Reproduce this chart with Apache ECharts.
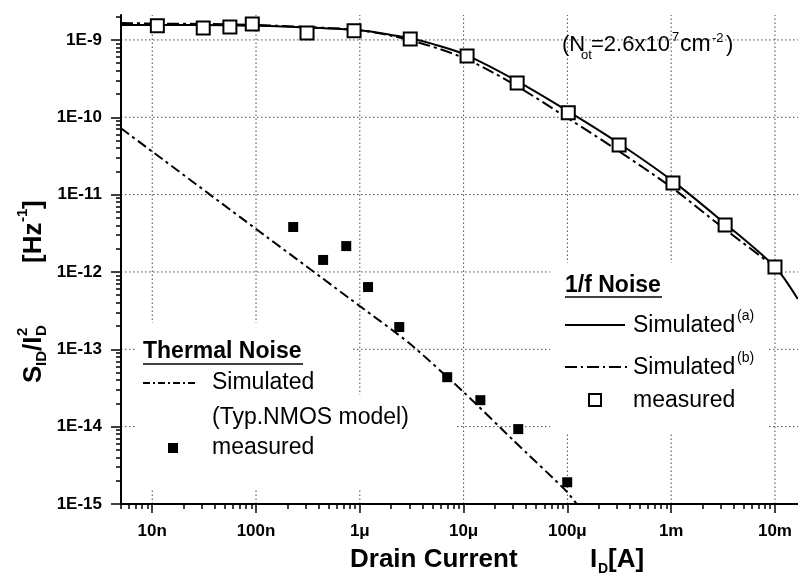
<!DOCTYPE html>
<html><head><meta charset="utf-8">
<script src="https://cdn.jsdelivr.net/npm/echarts@6/dist/echarts.min.js"></script>
<style>html,body{margin:0;padding:0;background:#fff}#c{width:798px;height:585px}</style>
</head><body><div id="c"></div>
<script>
// ---- tick labels ----
const xTickValues = [1e-8, 1e-7, 1e-6, 1e-5, 1e-4, 1e-3, 1e-2];
const xTickLabels = ['10n', '100n', '1μ', '10μ', '100μ', '1m', '10m'];
const yTickValues = [1e-15, 1e-14, 1e-13, 1e-12, 1e-11, 1e-10, 1e-9];
const yTickLabels = ['1E-15', '1E-14', '1E-13', '1E-12', '1E-11', '1E-10', '1E-9'];

// ---- thermal noise ----
const thermalSimX = [5e-9, 1e-8, 1e-7, 1e-6, 3e-6, 1e-5, 3e-5, 1e-4, 1.3e-4];
const thermalSimY = [7.2e-11, 3.6e-11, 3.6e-12, 3.62e-13, 1.2e-13, 2.8e-14, 6.7e-15, 1.42e-15, 9e-16];
const thermalMeasX = [2.28e-7, 4.43e-7, 7.4e-7, 1.2e-6, 2.4e-6, 6.95e-6, 1.45e-5, 3.36e-5, 9.96e-5];
const thermalMeasY = [3.81e-12, 1.43e-12, 2.16e-12, 6.38e-13, 1.94e-13, 4.36e-14, 2.2e-14, 9.3e-15, 1.91e-15];

// ---- 1/f noise ----
const flickerSimAX = [5e-9, 1e-8, 3e-8, 1e-7, 3e-7, 1e-6, 2e-6, 3e-6, 5e-6, 1e-5, 3e-5, 1e-4, 3e-4, 1e-3, 3e-3, 1e-2, 1.66e-2];
const flickerSimAY = [1.56e-9, 1.56e-9, 1.56e-9, 1.52e-9, 1.45e-9, 1.33e-9, 1.16e-9, 1.06e-9, 8.9e-10, 6.6e-10, 3.13e-10, 1.21e-10, 4.79e-11, 1.55e-11, 4.69e-12, 1.16e-12, 4.46e-13];
const flickerSimBX = [5e-9, 1e-8, 3e-8, 1e-7, 3e-7, 1e-6, 3e-6, 1e-5, 3e-5, 1e-4, 3e-4, 1e-3, 3e-3, 1e-2];
const flickerSimBY = [1.66e-9, 1.63e-9, 1.61e-9, 1.56e-9, 1.47e-9, 1.33e-9, 1.0e-9, 5.85e-10, 2.7e-10, 9.8e-11, 3.78e-11, 1.25e-11, 3.93e-12, 1.16e-12];
const flickerMeasX = [1.12e-8, 3.1e-8, 5.6e-8, 9.2e-8, 3.1e-7, 8.8e-7, 3.06e-6, 1.08e-5, 3.28e-5, 1.02e-4, 3.15e-4, 1.04e-3, 3.31e-3, 1.0e-2];
const flickerMeasY = [1.52e-9, 1.43e-9, 1.47e-9, 1.61e-9, 1.23e-9, 1.31e-9, 1.03e-9, 6.2e-10, 2.78e-10, 1.14e-10, 4.39e-11, 1.41e-11, 4.05e-12, 1.16e-12];

const X_MIN = 5e-9, X_MAX = 1.667e-2, Y_MIN = 1e-15, Y_MAX = 2.1e-9;
const FF = '"Liberation Sans", Arial, Helvetica, sans-serif';

const GRID = { left: 121, right: 0, top: 15, bottom: 81, containLabel: false };

function zip(a, b) { return a.map((v, i) => [v, b[i]]); }
function minorValues(lo, hi) {
  const out = [];
  for (let e = -16; e <= -1; e++) for (let m = 2; m <= 9; m++) {
    const v = m * Math.pow(10, e);
    if (v >= lo && v <= hi) out.push(v);
  }
  return out;
}
function labelFor(values, labels) {
  return function (v) {
    const lv = Math.log10(v);
    for (let i = 0; i < values.length; i++) if (Math.abs(Math.log10(values[i]) - lv) < 1e-6) return labels[i];
    return '';
  };
}

const chart = echarts.init(document.getElementById('c'), null, { renderer: 'canvas' });

const axisLabelStyle = { color: '#000', fontSize: 17, fontWeight: 'bold', fontFamily: FF };
const gridLineStyle = { color: '#4a4a4a', width: 1, type: [1.5, 2.5], opacity: 1 };

function txt(text, x, y, size, bold, extra) {
  return Object.assign({
    type: 'text', z: 100,
    style: {
      text: text, x: x, y: y, fill: '#000',
      fontSize: size, fontWeight: bold ? 'bold' : 'normal', fontFamily: FF,
      textAlign: 'left', textVerticalAlign: 'middle', align: 'left', verticalAlign: 'middle'
    }
  }, extra || {});
}
function cover(x, y, w, h) {
  return { type: 'rect', z: 1, shape: { x: x, y: y, width: w, height: h }, style: { fill: '#fff' }, silent: true };
}
function seg(x1, y1, x2, y2, dash, w) {
  return { type: 'line', z: 100, shape: { x1: x1, y1: y1, x2: x2, y2: y2 }, style: { stroke: '#000', lineWidth: w || 2, lineDash: dash || null } };
}
function logAxis(grid, min, max, pos, extra) {
  return Object.assign({
    gridIndex: grid, type: 'log', logBase: 10, min: min, max: max, position: pos, z: 2,
    axisLine: { show: false, onZero: false },
    axisLabel: { show: false },
    splitLine: { show: false },
    minorTick: { show: false }, minorSplitLine: { show: false }
  }, extra);
}
// one straight dotted grid line per decade, each its own little line series
function gridLineSeries(p1, p2) {
  return {
    type: 'line', xAxisIndex: 0, yAxisIndex: 0, data: [p1, p2], z: 0, silent: true,
    symbol: 'none', showSymbol: false, clip: false, lineStyle: gridLineStyle, emphasis: { disabled: true }
  };
}
const gridSeriesList = xTickValues.map(v => gridLineSeries([v, Y_MIN], [v, Y_MAX]))
  .concat(yTickValues.filter(v => v > Y_MIN).map(v => gridLineSeries([X_MIN, v], [X_MAX, v])));

const option = {
  backgroundColor: '#fff',
  animation: false,
  grid: [GRID, Object.assign({}, GRID)],
  xAxis: [
    logAxis(0, X_MIN, X_MAX, 'bottom', {
      axisLine: { show: true, onZero: false, lineStyle: { color: '#000', width: 2 } },
      axisTick: { show: true, customValues: xTickValues, length: 9, lineStyle: { color: '#000', width: 1.5 } },
      axisLabel: Object.assign({ show: true, customValues: xTickValues, formatter: labelFor(xTickValues, xTickLabels), margin: 19 }, axisLabelStyle)
    }),
    logAxis(1, X_MIN, X_MAX, 'bottom', {
      axisTick: { show: true, customValues: minorValues(X_MIN, X_MAX), length: 5, lineStyle: { color: '#000', width: 1.5 } }
    })
  ],
  yAxis: [
    logAxis(0, Y_MIN, Y_MAX, 'left', {
      axisLine: { show: true, onZero: false, lineStyle: { color: '#000', width: 2 } },
      axisTick: { show: true, customValues: yTickValues, length: 10, lineStyle: { color: '#000', width: 1.5 } },
      axisLabel: Object.assign({ show: true, customValues: yTickValues, formatter: labelFor(yTickValues, yTickLabels), margin: 19 }, axisLabelStyle)
    }),
    logAxis(1, Y_MIN, Y_MAX, 'left', {
      axisTick: { show: true, customValues: minorValues(Y_MIN, Y_MAX), length: 5, lineStyle: { color: '#000', width: 1.5 } }
    })
  ],
  series: gridSeriesList.concat([
    {
      name: 'Thermal Simulated', type: 'line', xAxisIndex: 0, yAxisIndex: 0,
      data: zip(thermalSimX, thermalSimY), symbol: 'none', smooth: 0.2, clip: true, silent: true, z: 3,
      lineStyle: { color: '#000', width: 2, type: [10, 4, 3, 4] }
    },
    {
      name: 'Thermal measured', type: 'scatter', xAxisIndex: 0, yAxisIndex: 0,
      data: zip(thermalMeasX, thermalMeasY), symbol: 'rect', symbolSize: 10, silent: true, z: 5,
      itemStyle: { color: '#000', opacity: 1 }
    },
    {
      name: '1/f Simulated (a)', type: 'line', xAxisIndex: 0, yAxisIndex: 0,
      data: zip(flickerSimAX, flickerSimAY), symbol: 'none', smooth: 0.3, clip: true, silent: true, z: 3,
      lineStyle: { color: '#000', width: 2 }
    },
    {
      name: '1/f Simulated (b)', type: 'line', xAxisIndex: 0, yAxisIndex: 0,
      data: zip(flickerSimBX, flickerSimBY), symbol: 'none', smooth: 0.3, clip: true, silent: true, z: 3,
      lineStyle: { color: '#000', width: 2, type: [12, 4, 3, 4] }
    },
    {
      name: '1/f measured', type: 'scatter', xAxisIndex: 0, yAxisIndex: 0,
      data: zip(flickerMeasX, flickerMeasY), symbol: 'rect', symbolSize: 13, silent: true, z: 6,
      itemStyle: { color: '#fff', borderColor: '#000', borderWidth: 2, opacity: 1 }
    }
  ]),
  graphic: [
    // white areas behind the legend blocks (hide grid lines there)
    cover(135, 323, 217, 72),
    cover(135, 395, 322, 95),
    cover(550, 263, 218, 170),

    // Thermal noise legend
    txt('Thermal Noise', 143, 352, 23, true),
    seg(143, 364, 303, 364, null, 1.5),
    seg(143, 383, 197, 383, [7, 3, 2, 3], 2),
    txt('Simulated', 212, 383, 23, false),
    txt('(Typ.NMOS model)', 212, 418, 23, false),
    { type: 'rect', z: 100, shape: { x: 168, y: 443, width: 10, height: 10 }, style: { fill: '#000' } },
    txt('measured', 212, 448, 23, false),

    // 1/f noise legend
    txt('1/f Noise', 565, 286, 23, true),
    seg(565, 297, 662, 297, null, 1.5),
    seg(565, 325, 625, 325, null, 2),
    txt('Simulated', 633, 326, 23, false),
    txt('(a)', 737, 316, 14, false),
    seg(565, 367, 627, 367, [12, 4, 2, 4], 2),
    txt('Simulated', 633, 368, 23, false),
    txt('(b)', 737, 358, 14, false),
    { type: 'rect', z: 100, shape: { x: 589, y: 394, width: 12, height: 12 }, style: { fill: '#fff', stroke: '#000', lineWidth: 2 } },
    txt('measured', 633, 401, 23, false),

    // annotation (Not=2.6x10^7 cm^-2)
    txt('(N', 562, 45, 22, false),
    txt('ot', 581, 55, 13, false),
    txt('=2.6x10', 591, 45, 22, false),
    txt('7', 672, 37, 13, false),
    txt('cm', 680, 45, 23, false),
    txt('-2', 712, 38, 13, false),
    txt(')', 726, 45, 22, false),

    // x axis title
    txt('Drain Current', 350, 560, 26, true),
    txt('I', 590, 560, 26, true),
    txt('D', 598, 569, 14, true),
    txt('[A]', 608, 560, 26, true),

    // y axis title (rotated)
    {
      type: 'group', x: 34, y: 383, rotation: Math.PI / 2, z: 100,
      children: [
        txt('S', 0, 0, 26, true),
        txt('ID', 17, 8, 15, true),
        txt('/I', 32, 0, 26, true),
        txt('D', 47, 8, 15, true),
        txt('2', 47, -11, 15, true),
        txt('[Hz', 120, 0, 26, true),
        txt('-1', 161, -11, 15, true),
        txt(']', 174, 0, 26, true)
      ]
    }
  ]
};
chart.setOption(option);
</script>
</body></html>
